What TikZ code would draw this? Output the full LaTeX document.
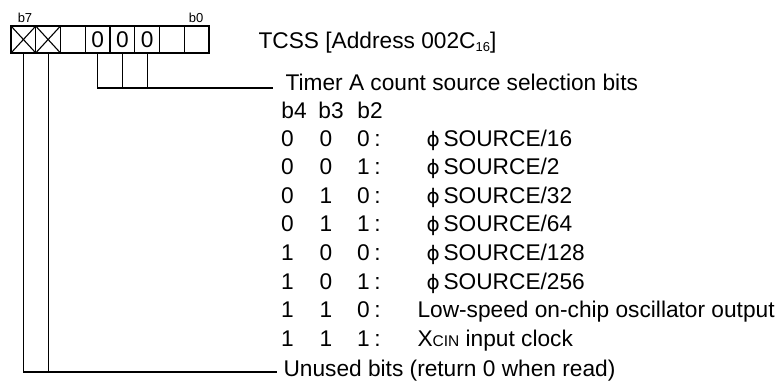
\documentclass[tikz,border=0pt]{standalone}
\usepackage{fontspec}
\setmainfont{Liberation Sans}
\newfontfamily\dejavu{DejaVu Sans}
\usepackage{tikz}
\usetikzlibrary{calc}

\newcommand{\phisrc}{{\dejavu\fontsize{20}{20}\selectfont ϕ}\,SOURCE}

\begin{document}
\begin{tikzpicture}
     [
     x=1pt, y=-1pt, line width=1.1pt,
     zelle/.style = {draw, minimum width=24.75pt, minimum height=27pt, inner sep=0pt, line width=1.1pt},
     txt/.style = {anchor=base west, inner sep=0pt},
     ziffer/.style = {anchor=base, inner sep=0pt},
     bitlbl/.style = {anchor=base, inner sep=0pt, font=\fontsize{13}{13}\selectfont}
     ]
     \fontsize{22.7}{26}\selectfont

     \useasboundingbox (0,0) rectangle (783,383);

     % register cells b7 ... b0
     \path (23.4,39.5) node[zelle] (c7) {}
           (48.1,39.5) node[zelle] (c6) {}
           (72.9,39.5) node[zelle] (c5) {}
           (97.6,39.5) node[zelle] (c4) {\raisebox{-2pt}{0}}
           (122.4,39.5) node[zelle] (c3) {\raisebox{-2pt}{0}}
           (147.1,39.5) node[zelle] (c2) {\raisebox{-2pt}{0}}
           (171.9,39.5) node[zelle] (c1) {}
           (196.6,39.5) node[zelle] (c0) {}
     ;
     \draw (c7.north west) -- (c7.south east) (c7.south west) -- (c7.north east)
           (c6.north west) -- (c6.south east) (c6.south west) -- (c6.north east);

     \path (25,22) node[bitlbl] (lb7) {b7}
           (196,22) node[bitlbl] (lb0) {b0}
           (258,48) node[txt] (tcss) {TCSS [Address 002C\raisebox{-3pt}{\fontsize{13}{13}\selectfont 16}]}
     ;

     % count source selection
     \path (285,90) node[txt] (timer) {Timer A count source selection bits}
           (294,118) node[ziffer] (h4) {b4}
           (331,118) node[ziffer] (h3) {b3}
           (370,118) node[ziffer] (h2) {b2}
     ;
     \coordinate (tend) at (273,88);
     \draw (c4.south) |- (tend);
     \draw (c3.south) -- (c3.south |- tend) (c2.south) -- (c2.south |- tend);

     \path (287.5,146) node[ziffer] {0} (326,146) node[ziffer] {0} (363.5,146) node[ziffer] {0}
           (377.5,146) node[ziffer] {:} (426,146) node[txt] (s0) {\phisrc/16}
           (287.5,174.6) node[ziffer] {0} (326,174.6) node[ziffer] {0} (363.5,174.6) node[ziffer] {1}
           (377.5,174.6) node[ziffer] {:} (426,174.6) node[txt] (s1) {\phisrc/2}
           (287.5,203.2) node[ziffer] {0} (326,203.2) node[ziffer] {1} (363.5,203.2) node[ziffer] {0}
           (377.5,203.2) node[ziffer] {:} (426,203.2) node[txt] (s2) {\phisrc/32}
           (287.5,231.8) node[ziffer] {0} (326,231.8) node[ziffer] {1} (363.5,231.8) node[ziffer] {1}
           (377.5,231.8) node[ziffer] {:} (426,231.8) node[txt] (s3) {\phisrc/64}
           (287.5,260.4) node[ziffer] {1} (326,260.4) node[ziffer] {0} (363.5,260.4) node[ziffer] {0}
           (377.5,260.4) node[ziffer] {:} (426,260.4) node[txt] (s4) {\phisrc/128}
           (287.5,289) node[ziffer] {1} (326,289) node[ziffer] {0} (363.5,289) node[ziffer] {1}
           (377.5,289) node[ziffer] {:} (426,289) node[txt] (s5) {\phisrc/256}
           (287.5,317.6) node[ziffer] {1} (326,317.6) node[ziffer] {1} (363.5,317.6) node[ziffer] {0}
           (377.5,317.6) node[ziffer] {:} (417,317.6) node[txt] (s6) {Low-speed on-chip oscillator output}
           (287.5,346.2) node[ziffer] {1} (326,346.2) node[ziffer] {1} (363.5,346.2) node[ziffer] {1}
           (377.5,346.2) node[ziffer] {:} (417,346.2) node[txt] (s7) {X{\fontsize{15.5}{15}\selectfont CIN} input clock}
     ;

     % unused bits
     \path (283,376) node[txt] (unused) {Unused bits (return 0 when read)};
     \coordinate (uend) at (277,372);
     \draw (c7.south) |- (uend);
     \draw (c6.south) -- (c6.south |- uend);
  \end{tikzpicture}
\end{document}
